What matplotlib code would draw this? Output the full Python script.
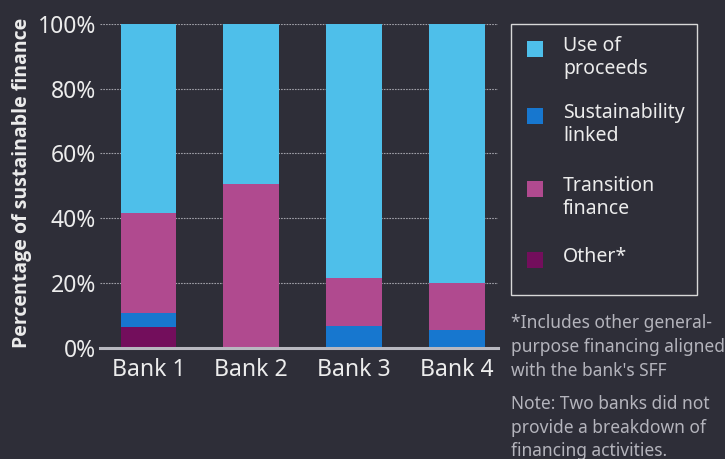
import numpy as np
import matplotlib.pyplot as plt
from matplotlib.patches import Rectangle

# данные (доли в %)
banks = ["Bank 1", "Bank 2", "Bank 3", "Bank 4"]
other = [6.5, 0, 0, 0]
sust_linked = [4.3, 0, 6.8, 5.6]
transition = [30.9, 50.6, 14.8, 14.4]
use_of_proceeds = [58.3, 49.4, 78.4, 80.0]

series_names = ["Other*", "Sustainability\nlinked", "Transition\nfinance", "Use of\nproceeds"]
series_vals = [other, sust_linked, transition, use_of_proceeds]
series_colors = ["#730e5c", "#1777cf", "#b04a8f", "#4ebfea"]

legend_order = [3, 1, 2, 0]
footnote = "*Includes other general-\npurpose financing aligned\nwith the bank's SFF"
note = "Note: Two banks did not\nprovide a breakdown of\nfinancing activities."

bg = "#2e2e38"
txt = "#ececec"
grey_txt = "#b4b4bc"
plt.rcParams["font.family"] = ["Noto Sans", "DejaVu Sans"]

fig = plt.figure(figsize=(7.25, 4.59), dpi=100, facecolor=bg)
ax = fig.add_axes([0.138, 0.242, 0.549, 0.706], facecolor=bg)

x = np.arange(len(banks))
bottom = np.zeros(len(banks))
for vals, col in zip(series_vals, series_colors):
    ax.bar(x, vals, width=0.54, bottom=bottom, color=col, zorder=3)
    bottom += np.array(vals)

ax.set_xlim(-0.47, 3.4)
ax.set_ylim(0, 100)
ax.set_yticks([0, 20, 40, 60, 80, 100])
ax.set_yticklabels([f"{v}%" for v in range(0, 101, 20)])
ax.set_xticks(x)
ax.set_xticklabels(banks)

# сетка и ось
for y in [20, 40, 60, 80, 100]:
    ax.axhline(y, color="#a0a0a8", lw=0.8, ls=(0, (1.5, 1)), zorder=1)
ax.axhline(0, color="#b8b8c0", lw=2.2, zorder=4, clip_on=False)

for s in ax.spines.values():
    s.set_visible(False)
ax.tick_params(length=0, labelcolor=txt, labelsize=16.5)
ax.tick_params(axis="y", pad=3)
ax.tick_params(axis="x", pad=7)
for lab in ax.get_xticklabels() + ax.get_yticklabels():
    lab.set_fontweight("light")

ax.set_ylabel("Percentage of sustainable finance", color=txt, fontsize=14,
              fontweight="bold", family=["Open Sans", "DejaVu Sans"])
ax.yaxis.set_label_coords(-0.172, 0.51)

# легенда вручную
W, H = 725, 459
def fx(px):
    return px / W
def fy(py):
    return 1 - py / H

fig.patches.append(Rectangle((fx(511), fy(295)), fx(697) - fx(511), fy(24) - fy(295),
                             transform=fig.transFigure, fill=False,
                             edgecolor="#d8d8d8", lw=1))
square_tops = [41, 108, 181, 252]
for top, i in zip(square_tops, legend_order):
    fig.patches.append(Rectangle((fx(527), fy(top + 16)), fx(16), 16 / H,
                                 transform=fig.transFigure,
                                 facecolor=series_colors[i], edgecolor="none"))
    fig.text(fx(563), fy(top - 5), series_names[i], color=txt, fontsize=14,
             fontweight="light", va="top", ha="left", linespacing=1.2)

fig.text(fx(511), fy(314), footnote, color=grey_txt, fontsize=12.5,
         fontweight="light", va="top", ha="left", linespacing=1.44)
fig.text(fx(511), fy(395), note, color=grey_txt, fontsize=12.5,
         fontweight="light", va="top", ha="left", linespacing=1.4)

fig.savefig("out.png", dpi=100, facecolor=bg)
